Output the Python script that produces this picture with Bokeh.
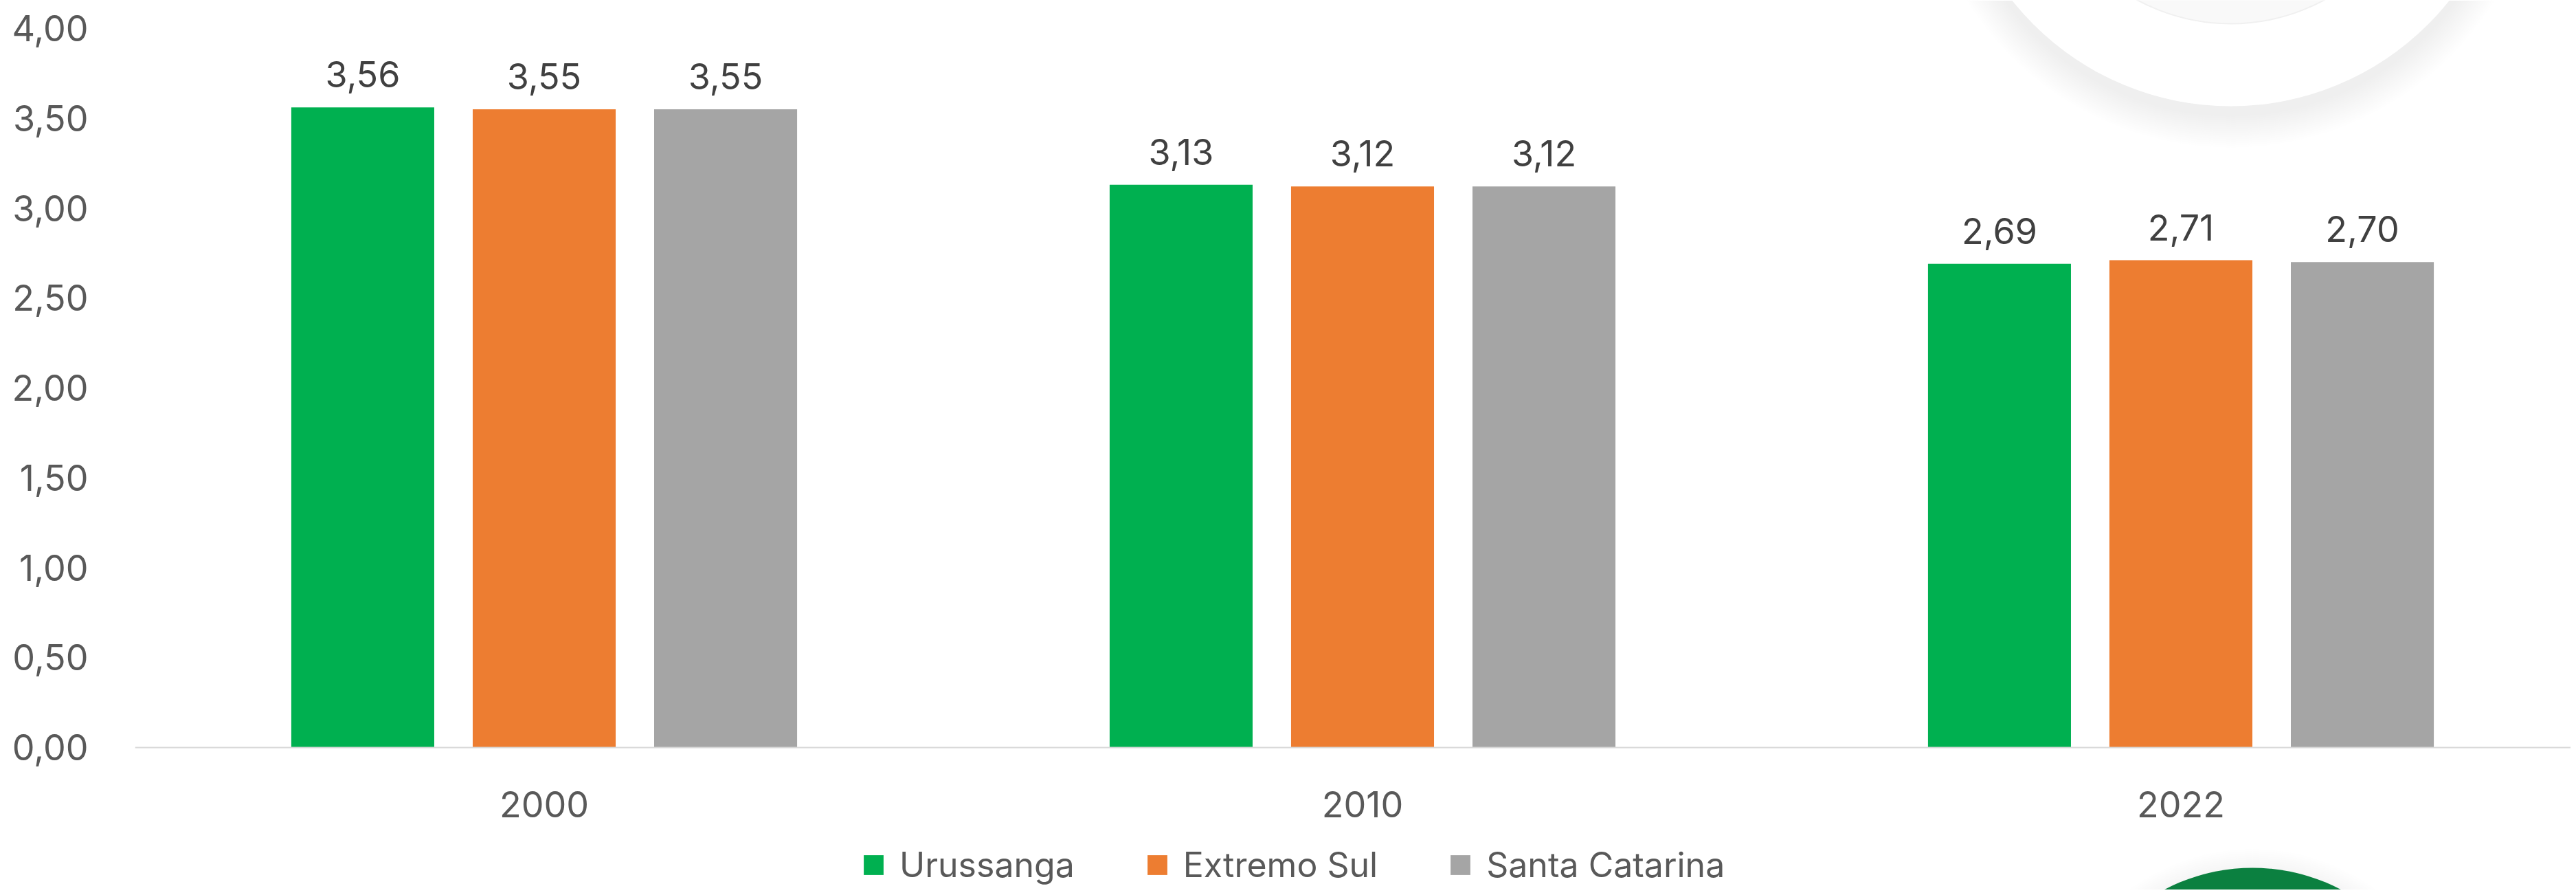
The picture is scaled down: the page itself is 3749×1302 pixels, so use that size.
from bokeh.plotting import figure
from bokeh.models import Range1d, FixedTicker, ColumnDataSource, Legend, LegendItem
from bokeh.core.properties import value
from bokeh.embed import file_html
from bokeh.resources import INLINE

years = ["2000", "2010", "2022"]
series = ["Urussanga", "Extremo Sul", "Santa Catarina"]
urussanga = [3.56, 3.13, 2.69]
extremo_sul = [3.55, 3.12, 2.71]
santa_catarina = [3.55, 3.12, 2.70]
colors = ["#00B050", "#ED7D31", "#A5A5A5"]
y_ticks = [0.0, 0.5, 1.0, 1.5, 2.0, 2.5, 3.0, 3.5, 4.0]

FONT = "Inter"
values_by_series = [urussanga, extremo_sul, santa_catarina]

PX_Y = 261.5  # pixels per y unit (layout)
p = figure(width=3741, height=1294, output_backend="svg", toolbar_location=None,
           x_range=Range1d(0, 2.9765), y_range=Range1d(-0.7927, 4.1557),
           min_border_left=196, min_border_right=0, min_border_top=0, min_border_bottom=0)
p.outline_line_color = None
p.background_fill_color = "white"
p.border_fill_color = "white"
p.xgrid.visible = False
p.ygrid.visible = False

# decorative top-right circle with soft shadow
for k in range(16):
    p.circle([2.5609], [5.1193 - 15 / PX_Y], radius=406 + 3 * k, radius_units="screen",
             fill_color="#808080", fill_alpha=0.013, line_color=None)
p.circle([2.5609], [5.1193], radius=406, radius_units="screen", fill_color="white", line_color=None)
p.circle([2.5609], [5.1193], radius=286, radius_units="screen", fill_color="#f9f9f9",
         line_color="#f0f0f0", line_width=2)

# decorative green circle at the bottom right with soft shadow
for k in range(10):
    p.circle([2.5877], [-1.7296], radius=277 + 3 * k, radius_units="screen",
             fill_color="#808080", fill_alpha=0.012, line_color=None)
p.circle([2.5877], [-1.7296], radius=277, radius_units="screen", fill_color="#0B8040", line_color=None)

offsets = [-0.2217, 0.0, 0.2217]
items = []
for j, (name, vals, col) in enumerate(zip(series, values_by_series, colors)):
    xs = [i + 0.5 + offsets[j] for i in range(len(years))]
    src = ColumnDataSource(dict(x=xs, top=vals, lab=[f"{v:.2f}".replace(".", ",") for v in vals]))
    r = p.vbar(x="x", top="top", width=0.1747, bottom=0, source=src, fill_color=col, line_color=None)
    p.text(x="x", y="top", text="lab", source=src, text_align="center", text_baseline="alphabetic",
           y_offset=-48, text_font=value(FONT), text_font_size="52px", text_color="#404040")
    items.append(LegendItem(label=name, renderers=[r]))

p.xaxis.fixed_location = 0
p.xaxis.ticker = FixedTicker(ticks=[i + 0.5 for i in range(len(years))])
p.xaxis.major_label_overrides = {i + 0.5: y for i, y in enumerate(years)}
p.xaxis.axis_line_color = "#D9D9D9"
p.xaxis.axis_line_width = 2
p.xaxis.major_tick_line_color = None
p.xaxis.minor_tick_line_color = None
p.xaxis.major_label_standoff = 58
p.xaxis.major_label_text_font = FONT
p.xaxis.major_label_text_font_size = "52px"
p.xaxis.major_label_text_color = "#595959"

p.yaxis.ticker = FixedTicker(ticks=y_ticks)
p.yaxis.major_label_overrides = {t: f"{t:.2f}".replace(".", ",") for t in y_ticks}
p.yaxis.axis_line_color = None
p.yaxis.major_tick_line_color = None
p.yaxis.minor_tick_line_color = None
p.yaxis.major_label_standoff = 62
p.yaxis.major_label_text_font = FONT
p.yaxis.major_label_text_font_size = "52px"
p.yaxis.major_label_text_color = "#595959"

legend = Legend(items=items, orientation="horizontal", location=(1057, 6),
                glyph_width=36, glyph_height=36, label_standoff=20, spacing=102,
                padding=0, margin=0, border_line_color=None, background_fill_alpha=0,
                label_text_font=FONT, label_text_font_size="50px", label_text_color="#595959")
p.add_layout(legend, "center")

open("out.html", "w").write(file_html(p, INLINE))
